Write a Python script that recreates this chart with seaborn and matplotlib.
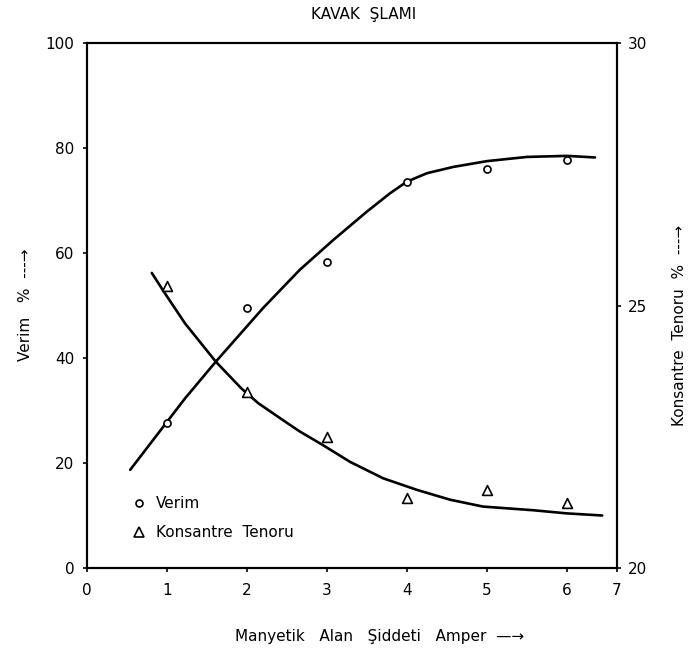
import matplotlib
matplotlib.use("Agg")
import matplotlib.pyplot as plt
from matplotlib.lines import Line2D
import seaborn as sns
import pandas as pd

# measured points
amper = [1, 2, 3, 4, 5, 6]
verim = [27.6, 49.6, 58.2, 73.5, 76.0, 77.8]
tenor = [25.37, 23.36, 22.50, 21.33, 21.49, 21.23]

# drawn curves
verim_curve_x = [0.54, 1.225, 1.61, 2.20, 2.66, 3.08, 3.50, 3.79, 4.00, 4.25, 4.58, 5.00, 5.50, 6.00, 6.35]
verim_curve_y = [18.7, 32.3, 39.3, 49.5, 56.8, 62.5, 67.9, 71.4, 73.6, 75.2, 76.4, 77.5, 78.3, 78.5, 78.2]
tenor_curve_x = [0.81, 0.975, 1.225, 1.61, 1.93, 2.14, 2.475, 2.66, 2.95, 3.29, 3.70, 4.12, 4.54, 4.95, 5.58, 6.00, 6.44]
tenor_curve_y = [25.62, 25.23, 24.66, 23.93, 23.42, 23.14, 22.79, 22.60, 22.34, 22.02, 21.71, 21.49,
                 21.30, 21.17, 21.10, 21.04, 21.00]

x_ticks = [0, 1, 2, 3, 4, 5, 6, 6.625]
x_tick_labels = ["0", "1", "2", "3", "4", "5", "6", "7"]
left_ticks = [0, 20, 40, 60, 80, 100]
right_ticks = [20, 25, 30]

sns.set_style("ticks")
plt.rcParams['font.family'] = ['DejaVu Sans']
plt.rcParams['text.color'] = 'black'
plt.rcParams['axes.labelcolor'] = 'black'

W, H = 692, 653
fig = plt.figure(figsize=(W / 100, H / 100), dpi=100)
L, R, T, B = 87, 617, 43, 568
ax = fig.add_axes([L / W, 1 - B / H, (R - L) / W, (B - T) / H])
ax2 = ax.twinx()

vc = pd.DataFrame({"x": verim_curve_x, "y": verim_curve_y})
tc = pd.DataFrame({"x": tenor_curve_x, "y": tenor_curve_y})
vp = pd.DataFrame({"x": amper, "y": verim})
tp = pd.DataFrame({"x": amper, "y": tenor})

sns.lineplot(data=vc, x="x", y="y", ax=ax, color="black", lw=1.9, sort=False, estimator=None)
sns.lineplot(data=tc, x="x", y="y", ax=ax2, color="black", lw=1.9, sort=False, estimator=None)
sns.scatterplot(data=vp, x="x", y="y", ax=ax, marker="o", s=26, facecolor="white",
                edgecolor="black", linewidth=1.2, zorder=5)
sns.scatterplot(data=tp, x="x", y="y", ax=ax2, marker="^", s=50, facecolor="white",
                edgecolor="black", linewidth=1.2, zorder=5)

ax.set_xlim(0, 6.625)
ax.set_ylim(0, 100)
ax2.set_ylim(20, 30)
ax.set_xticks(x_ticks)
ax.set_xticklabels(x_tick_labels)
ax.set_yticks(left_ticks)
ax2.set_yticks(right_ticks)
for a in (ax, ax2):
    for s in a.spines.values():
        s.set_visible(True)
        s.set_linewidth(1.5)
        s.set_color("black")
    a.tick_params(labelsize=11, length=3, width=1.2, colors="black")
ax.tick_params(axis="x", pad=8)
ax.tick_params(axis="y", pad=6)
ax2.tick_params(axis="y", pad=5)
ax.set_xlabel("")
ax.set_ylabel("")
ax2.set_ylabel("")

fig.text(364 / W, 1 - 15 / H, "KAVAK  ŞLAMI", ha="center", va="center", fontsize=11)
fig.text(380 / W, 1 - 636 / H, "Manyetik   Alan   Şiddeti   Amper  \u2014\u2192",
         ha="center", va="center", fontsize=11)
fig.text(25 / W, 1 - 305 / H, "Verim   %  ---\u2192", rotation=90, ha="center", va="center",
         fontsize=11)
fig.text(680 / W, 1 - 325 / H, "Konsantre  Tenoru  %  ---\u2192", rotation=90, ha="center",
         va="center", fontsize=11)

handles = [Line2D([], [], marker="o", ls="", mfc="white", mec="black", ms=5, mew=1.2),
           Line2D([], [], marker="^", ls="", mfc="white", mec="black", ms=7, mew=1.2)]
ax.legend(handles, ["Verim", "Konsantre  Tenoru"], loc="center left",
          bbox_to_anchor=(0.072, 0.095), borderaxespad=0, frameon=False, fontsize=11,
          handletextpad=0.6, labelspacing=0.95, handlelength=1)

fig.savefig("out.png", dpi=100)
